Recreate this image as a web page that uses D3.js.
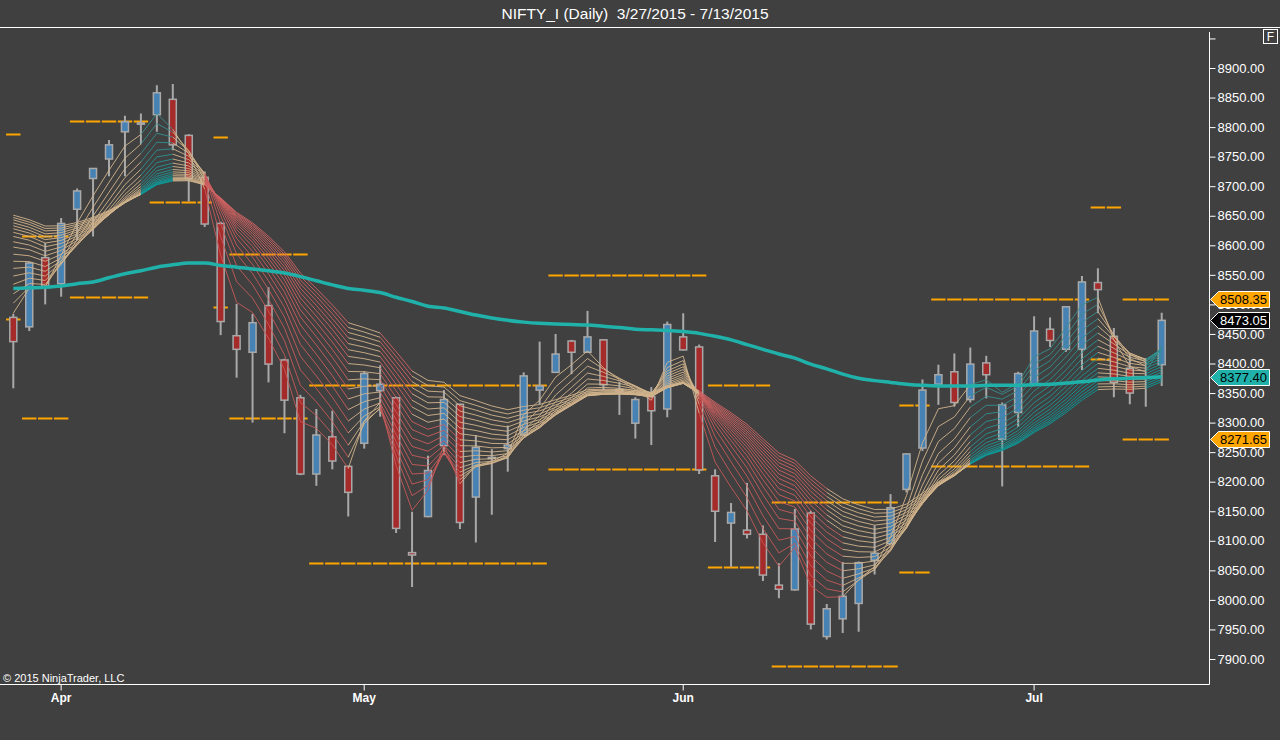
<!DOCTYPE html>
<html>
<head>
<meta charset="utf-8">
<script src="https://cdn.jsdelivr.net/npm/d3@7"></script>
<style>
  html, body { margin: 0; padding: 0; background: #404040; }
  svg { display: block; font-family: "Liberation Sans", Arial, sans-serif; }
</style>
</head>
<body>
<svg id="chart" width="1280" height="740"></svg>
<script>
// trading days shown on the chart
const dates = [
  "2015-03-27","2015-03-30","2015-03-31","2015-04-01","2015-04-06","2015-04-07","2015-04-08","2015-04-09","2015-04-10",
  "2015-04-13","2015-04-15","2015-04-16","2015-04-17","2015-04-20","2015-04-21","2015-04-22","2015-04-23","2015-04-24",
  "2015-04-27","2015-04-28","2015-04-29","2015-04-30","2015-05-04","2015-05-05","2015-05-06","2015-05-07","2015-05-08",
  "2015-05-11","2015-05-12","2015-05-13","2015-05-14","2015-05-15","2015-05-18","2015-05-19","2015-05-20","2015-05-21",
  "2015-05-22","2015-05-25","2015-05-26","2015-05-27","2015-05-28","2015-05-29","2015-06-01","2015-06-02","2015-06-03",
  "2015-06-04","2015-06-05","2015-06-08","2015-06-09","2015-06-10","2015-06-11","2015-06-12","2015-06-15","2015-06-16",
  "2015-06-17","2015-06-18","2015-06-19","2015-06-22","2015-06-23","2015-06-24","2015-06-25","2015-06-26","2015-06-29",
  "2015-06-30","2015-07-01","2015-07-02","2015-07-03","2015-07-06","2015-07-07","2015-07-08","2015-07-09","2015-07-10",
  "2015-07-13"
];
const opens = [
  8478,8462,8579,8535,8661,8713,8746,8792,8805, 8821,8847,8786,8715,8637,8447,8419,8498,8406,
  8342,8213,8276,8226,8265,8354,8342,8080,8141, 8261,8331,8174,8240,8256,8279,8355,8385,8438,
  8419,8440,8356,8299,8344,8323,8445,8428,8210, 8130,8118,8111,8025,8017,8147,7938,7968,7994,
  8067,8095,8187,8257,8365,8386,8339,8401,8272, 8317,8363,8458,8424,8424,8537,8446,8392,8376,
  8398
];
const highs = [
  8484,8572,8604,8646,8696,8731,8778,8819,8823, 8871,8873,8788,8725,8640,8501,8484,8529,8408,
  8347,8323,8320,8227,8387,8397,8344,8149,8244, 8355,8332,8279,8255,8295,8385,8437,8450,8440,
  8489,8441,8369,8343,8360,8471,8485,8432,8221, 8164,8198,8126,8062,8154,8151,7993,8064,8065,
  8126,8179,8248,8373,8398,8417,8427,8413,8334, 8386,8480,8478,8497,8548,8561,8460,8417,8409,
  8486
];
const lows = [
  8358,8455,8500,8513,8609,8615,8717,8717,8771, 8792,8761,8674,8631,8448,8376,8300,8368,8282,
  8211,8193,8221,8141,8256,8310,8113,8022,8140, 8245,8120,8097,8144,8217,8277,8331,8384,8382,
  8418,8355,8313,8273,8262,8309,8422,8213,8098, 8056,8104,8032,8003,8016,7950,7933,7944,7946,
  8043,8094,8182,8252,8330,8327,8334,8341,8192, 8293,8362,8428,8420,8389,8485,8343,8331,8327,
  8362
];
const closes = [
  8437,8570,8531,8637,8692,8730,8770,8809,8807, 8858,8770,8713,8636,8471,8424,8469,8399,8338,
  8213,8279,8235,8182,8383,8365,8121,8076,8219, 8339,8131,8258,8241,8262,8379,8362,8416,8419,
  8445,8364,8352,8339,8320,8466,8423,8220,8150, 8148,8111,8042,8018,8120,7959,7985,8006,8063,
  8079,8156,8247,8355,8381,8334,8399,8381,8330, 8383,8455,8439,8496,8538,8525,8368,8350,8377,
  8473.05
];

// thick moving average
const smaValues = [
  8527,8528,8529,8531,8535,8538,8545,8552,8557, 8563,8567,8570,8570,8566,8563,8560,8557,8553,
  8547,8540,8533,8527,8524,8520,8512,8505,8497, 8494,8488,8482,8477,8473,8470,8468,8467,8466,
  8465,8463,8461,8458,8457,8456,8454,8451,8446, 8440,8432,8424,8416,8409,8399,8391,8382,8375,
  8371,8368,8365,8363,8362,8362,8362,8363,8363, 8363,8364,8365,8367,8369,8372,8374,8375,8376,
  8377.4
];

// ribbon: EMA periods and their values on the first bar
const ribbonPeriods = [3,4,5,6,7,8,9,10,11,12,13,14,15,16,17,18,19,20];
const ribbonSeeds = [8485,8502,8518,8534,8548,8561,8573,8585,8597,8606,8615,8622,8628,8633,8638,8643,8647,8651];
// colour of each bar-to-bar segment: +n = n fastest lines teal, -n = n fastest lines red, 0 = tan
const ribbonTone = [
  0,0,0,0,0,0,0,0,18, 18,0,0,-18,-18,-18,-18,-18,-18,
  -18,-18,-18,0,0,-18,-18,-10,-10, -10,0,0,0,0,0,0,0,0,
  0,0,0,0,0,0,0,-18,-18, -18,-18,-18,-18,-18,-18,-10,0,0,
  0,0,0,0,0,0,18,18,18, 18,18,18,18,18,0,0,0,18
];

// orange weekly levels: first bar, last bar, upper, lower
const levelFrom = [0, 1, 4, 9, 13, 14, 19, 34, 44, 48, 56, 58, 68, 70];
const levelTo   = [0, 3, 8, 12, 13, 18, 33, 43, 47, 55, 57, 67, 69, 72];
const levelHigh = [8788, 8616, 8810, 8975, 8784, 8585, 8364, 8550, 8364, 8165, 8329, 8509, 8665, 8508.35];
const levelLow  = [8475, 8307, 8513, 8674, 8495, 8308, 8063, 8222, 8056, 7888, 8048, 8226, 8407, 8271.65];

const priceTicks = d3.range(7900, 8951, 50);
const monthTicks = ["2015-04-01", "2015-05-04", "2015-06-01", "2015-07-01"];
const monthLabels = ["Apr", "May", "Jun", "Jul"];

const W = 1280, H = 740;
const PLOT = { left: 0, right: 1209.5, top: 28, bottom: 684.5 };

const svg = d3.select("#chart");

const x = d3.scaleBand().domain(dates).range([5.33, 5.33 + dates.length * 15.95]);
const cx = (i) => x(dates[i]) + x.bandwidth() / 2;
const y = d3.scaleLinear().domain([7900, 8900]).range([659, 68]);

svg.append("rect").attr("width", W).attr("height", H).attr("fill", "#404040");

svg.append("defs").append("clipPath").attr("id", "plot-clip")
  .append("rect")
  .attr("x", PLOT.left).attr("y", PLOT.top)
  .attr("width", PLOT.right - PLOT.left).attr("height", PLOT.bottom - PLOT.top);

const plot = svg.append("g").attr("clip-path", "url(#plot-clip)");

// orange levels, one short dash per bar
const levelDashes = [];
levelFrom.forEach((from, g) => {
  for (let i = from; i <= levelTo[g]; i += 1) {
    levelDashes.push({ i, v: levelHigh[g] });
    levelDashes.push({ i, v: levelLow[g] });
  }
});
plot.append("g")
  .selectAll("line")
  .data(levelDashes)
  .join("line")
  .attr("x1", (d) => cx(d.i) - 7.2)
  .attr("x2", (d) => cx(d.i) + 7.2)
  .attr("y1", (d) => Math.round(y(d.v)) + 0.5)
  .attr("y2", (d) => Math.round(y(d.v)) + 0.5)
  .attr("stroke", "#ffa500")
  .attr("stroke-width", 2);

// candles
const bars = dates.map((d, i) => ({ i, o: opens[i], h: highs[i], l: lows[i], c: closes[i] }));
const candle = plot.append("g").selectAll("g").data(bars).join("g");
candle.append("line")
  .attr("x1", (d) => cx(d.i)).attr("x2", (d) => cx(d.i))
  .attr("y1", (d) => y(d.h)).attr("y2", (d) => y(d.l))
  .attr("stroke", "#a9a9a9").attr("stroke-width", 2);
candle.append("rect")
  .attr("x", (d) => cx(d.i) - 3.5)
  .attr("width", 7)
  .attr("y", (d) => y(Math.max(d.o, d.c)))
  .attr("height", (d) => Math.max(1, Math.abs(y(d.o) - y(d.c))))
  .attr("fill", (d) => (d.c >= d.o ? "#4682b4" : "#a52a2a"))
  .attr("stroke", "#a9a9a9")
  .attr("stroke-width", 1.5);

// ribbon of EMAs computed from the closes
const ribbon = ribbonPeriods.map((p, n) => {
  const k = 2 / (p + 1);
  const out = [ribbonSeeds[n]];
  for (let i = 1; i < closes.length; i += 1) {
    out.push(out[i - 1] + k * (closes[i] - out[i - 1]));
  }
  return out;
});

const tealTone = d3.interpolateRgb("#3a8c8c", "#0a9c9c");
const redTone = d3.interpolateRgb("#c65858", "#d06464");
function segColor(seg, n) {
  const s = ribbonTone[seg];
  const t = n / (ribbonPeriods.length - 1);
  if (s > 0 && n < s) return tealTone(t);
  if (s < 0 && n < -s) return redTone(t);
  return "#d2b48c";
}

const segments = [];
ribbon.forEach((vals, n) => {
  for (let i = 0; i < vals.length - 1; i += 1) {
    segments.push({ n, i, a: vals[i], b: vals[i + 1] });
  }
});
plot.append("g")
  .selectAll("line")
  .data(segments)
  .join("line")
  .attr("x1", (d) => cx(d.i)).attr("x2", (d) => cx(d.i + 1))
  .attr("y1", (d) => y(d.a)).attr("y2", (d) => y(d.b))
  .attr("stroke", (d) => segColor(d.i, d.n))
  .attr("stroke-opacity", 0.9)
  .attr("stroke-width", 1);

// thick average
plot.append("path")
  .datum(smaValues)
  .attr("fill", "none")
  .attr("stroke", "#20b2aa")
  .attr("stroke-width", 3.5)
  .attr("d", d3.line().x((d, i) => cx(i)).y((d) => y(d)).curve(d3.curveMonotoneX));

// frame
svg.append("line").attr("x1", 0).attr("x2", W).attr("y1", 27.5).attr("y2", 27.5)
  .attr("stroke", "#fff").attr("stroke-width", 1);
svg.append("line").attr("x1", 0).attr("x2", PLOT.right).attr("y1", PLOT.bottom).attr("y2", PLOT.bottom)
  .attr("stroke", "#fff").attr("stroke-width", 1);
svg.append("line").attr("x1", PLOT.right).attr("x2", PLOT.right).attr("y1", 32).attr("y2", PLOT.bottom)
  .attr("stroke", "#fff").attr("stroke-width", 1);

// price axis
const yAxis = svg.append("g")
  .attr("transform", `translate(${PLOT.right},0)`)
  .call(d3.axisRight(y).tickValues(priceTicks).tickSize(6).tickPadding(2)
    .tickFormat((d) => (d > 8900 ? "" : d.toFixed(2))));
yAxis.select(".domain").remove();
yAxis.selectAll(".tick line").attr("stroke", "#fff");
yAxis.selectAll(".tick text").attr("fill", "#fff").attr("font-size", 13);

// date axis
const xAxis = svg.append("g")
  .attr("transform", `translate(0,${PLOT.bottom})`)
  .call(d3.axisBottom(x).tickValues(monthTicks).tickSize(6).tickPadding(3)
    .tickFormat((d) => monthLabels[monthTicks.indexOf(d)]));
xAxis.select(".domain").remove();
xAxis.selectAll(".tick line").attr("stroke", "#fff");
xAxis.selectAll(".tick text").attr("fill", "#fff").attr("font-size", 12).attr("font-weight", "bold");

// value flags on the price axis
const flags = [
  { v: levelHigh[levelHigh.length - 1], fill: "#ffa500", text: "#000" },
  { v: closes[closes.length - 1], fill: "#000", text: "#fff" },
  { v: smaValues[smaValues.length - 1], fill: "#20b2aa", text: "#000" },
  { v: levelLow[levelLow.length - 1], fill: "#ffa500", text: "#000" },
];
const flag = svg.append("g").selectAll("g").data(flags).join("g")
  .attr("transform", (d) => `translate(0,${Math.round(y(d.v)) + 0.5})`);
flag.append("path")
  .attr("d", "M1210.5,0 L1218.5,-8 L1269.5,-8 L1269.5,8 L1218.5,8 Z")
  .attr("fill", (d) => d.fill)
  .attr("stroke", "#fff")
  .attr("stroke-width", 1);
flag.append("text")
  .attr("x", 1220).attr("y", 4.5)
  .attr("font-size", 13)
  .attr("fill", (d) => d.text)
  .text((d) => d.v.toFixed(2));

// title, corner box, copyright
svg.append("text").attr("x", 635).attr("y", 19).attr("text-anchor", "middle")
  .attr("fill", "#fff").attr("font-size", 15.5)
  .text("NIFTY_I (Daily)  3/27/2015 - 7/13/2015").style("white-space", "pre");
svg.append("rect").attr("x", 1263.5).attr("y", 29.5).attr("width", 14).attr("height", 14)
  .attr("fill", "none").attr("stroke", "#fff");
svg.append("text").attr("x", 1270.5).attr("y", 41).attr("text-anchor", "middle")
  .attr("fill", "#fff").attr("font-size", 12).text("F");
svg.append("text").attr("x", 3).attr("y", 682).attr("fill", "#fff").attr("font-size", 11)
  .text("© 2015 NinjaTrader, LLC");
</script>
</body>
</html>
